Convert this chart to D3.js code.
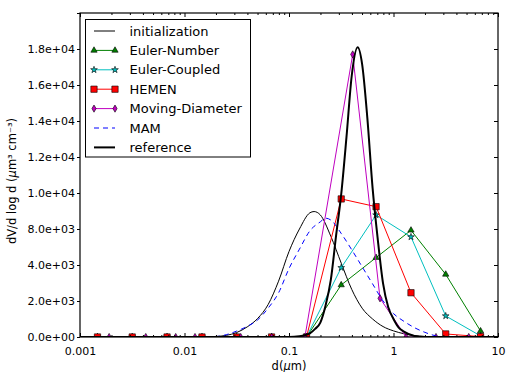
<!DOCTYPE html>
<html><head><meta charset="utf-8">
<script src="https://cdn.jsdelivr.net/npm/d3@7"></script>
<style>body{margin:0;background:#fff}svg{display:block}text{font-family:"DejaVu Sans",sans-serif}</style>
</head><body><svg id="c" width="507" height="372"></svg>
<script>
// ---- data ----
const gridD = [0.00147,0.00316,0.00681,0.0147,0.0316,0.0681,0.147,0.316,0.681,1.47,3.16,6.81];
const eulerNumberV = [0,0,0,0,0,0,0,2890,4410,5930,3480,330];
const eulerCoupledV = [0,0,0,0,0,0,0,3850,6780,5560,1170,60];
const hemenV = [0,0,0,0,0,0,0,7670,7240,2460,170,20];
const movingD = [0.0019,0.00426,0.00824,0.0126,0.0345,0.0683,0.142,0.407,0.743,1.32,2.55,5.25];
const movingV = [0,0,0,0,0,0,0,15700,2150,0,0,0];
const initD = [0.001,0.01,0.01585,0.01995,0.02512,0.03162,0.03981,0.05012,0.0631,0.07943,0.1,0.1259,0.1585,0.1738,0.1995,0.2512,0.3162,0.3981,0.5012,0.631,0.7943,1,1.259,1.585,1.995,2.512,3.162,10];
const initV = [0,0,8,30,90,250,560,1030,1800,3100,4750,6000,6900,6970,6780,5600,4100,2650,1600,1000,580,340,180,80,30,5,0,0];
const mamD = [0.001,0.01585,0.01995,0.02512,0.03162,0.03981,0.05012,0.0631,0.07943,0.1,0.1259,0.1585,0.1995,0.2239,0.2512,0.3162,0.3981,0.5012,0.631,0.7943,1,1.259,1.585,1.995,2.512,3.162,10];
const mamV = [0,0,20,130,330,590,950,1600,2450,3800,4880,5900,6400,6600,6500,5750,4850,3900,2950,2000,1300,870,520,260,70,0,0];
const refD = [0.001,0.1,0.1259,0.1585,0.1778,0.1995,0.2239,0.2512,0.2818,0.3162,0.3548,0.3981,0.4539,0.5012,0.5623,0.631,0.7079,0.7943,0.8913,1,1.122,1.259,1.585,1.995,10];
const refV = [0,0,40,200,450,800,1750,3170,5600,7950,11100,14500,16100,15150,12150,8270,5400,2980,1650,1000,520,300,60,0,0];
const seriesNames = ["initialization","Euler-Number","Euler-Coupled","HEMEN","Moving-Diameter","MAM","reference"];
const xTicks = [0.001,0.01,0.1,1,10];
const xTickLabels = ["0.001","0.01","0.1","1","10"];
const yTicks = [0,2000,4000,6000,8000,10000,12000,14000,16000,18000];
const yTickLabels = ["0.0e+00","2.0e+03","4.0e+03","8.0e+03","1.0e+04","1.2e+04","1.4e+04","1.6e+04","1.8e+04",""];

// ---- layout ----
const L = 80, R = 498, T = 13, B = 337;
const svg = d3.select("#c");
const x = d3.scaleLog().domain([0.001, 10]).range([L, R]);
const y = d3.scaleLinear().domain([0, 18000]).range([B, T]);

const minor = [];
for (let e = -3; e < 1; e++) for (let m = 2; m <= 9; m++) minor.push(m * Math.pow(10, e));

svg.append("defs").append("clipPath").attr("id", "clip")
  .append("rect").attr("x", L).attr("y", T).attr("width", R - L).attr("height", B - T);

const plot = svg.append("g").attr("clip-path", "url(#clip)");
const line = d3.line().x(d => x(d[0])).y(d => y(d[1])).curve(d3.curveMonotoneX);
const lineStraight = d3.line().x(d => x(d[0])).y(d => y(d[1]));

const zip = (a, b) => a.map((v, i) => [v, b[i]]);

const styles = {
  "initialization": {color: "#000", width: 1},
  "Euler-Number": {color: "#008000", width: 1, marker: "tri", fill: "#008000"},
  "Euler-Coupled": {color: "#00bfbf", width: 1, marker: "star", fill: "#00bfbf"},
  "HEMEN": {color: "#ff0000", width: 1, marker: "square", fill: "#ff0000"},
  "Moving-Diameter": {color: "#bf00bf", width: 1, marker: "diamond", fill: "#bf00bf"},
  "MAM": {color: "#0000ff", width: 1, dash: "5,4"},
  "reference": {color: "#000", width: 2}
};

function markerPath(kind) {
  if (kind === "tri") return d3.symbol(d3.symbolTriangle, 17)();
  if (kind === "star") return d3.symbol(d3.symbolStar, 14)();
  if (kind === "square") return d3.symbol(d3.symbolSquare, 40)();
  if (kind === "diamond") return d3.symbol(d3.symbolDiamond, 15)();
}

function drawSeries(name, pts, smooth) {
  const s = styles[name];
  plot.append("path").datum(pts).attr("d", smooth ? line : lineStraight)
    .attr("fill", "none").attr("stroke", s.color).attr("stroke-width", s.width)
    .attr("stroke-dasharray", s.dash || null).attr("stroke-linejoin", "round");
  if (s.marker) {
    plot.append("g").selectAll("path").data(pts).join("path")
      .attr("d", markerPath(s.marker))
      .attr("transform", d => `translate(${x(d[0])},${y(d[1])})`)
      .attr("fill", s.fill).attr("stroke", "#000").attr("stroke-width", 0.6);
  }
}

drawSeries("initialization", zip(initD, initV), true);
drawSeries("Euler-Number", zip(gridD, eulerNumberV), false);
drawSeries("Euler-Coupled", zip(gridD, eulerCoupledV), false);
drawSeries("HEMEN", zip(gridD, hemenV), false);
drawSeries("Moving-Diameter", zip(movingD, movingV), false);
drawSeries("MAM", zip(mamD, mamV), true);
drawSeries("reference", zip(refD, refV), true);

// ---- axes ----
const fs = "11px";
const gB = svg.append("g").attr("transform", `translate(0,${B})`)
  .call(d3.axisBottom(x).tickValues(xTicks).tickSizeInner(-4).tickSizeOuter(0).tickPadding(10)
    .tickFormat((d, i) => xTickLabels[i]));
const gBm = svg.append("g").attr("transform", `translate(0,${B})`)
  .call(d3.axisBottom(x).tickValues(minor).tickSizeInner(-2).tickSizeOuter(0).tickFormat(""));
const gT = svg.append("g").attr("transform", `translate(0,${T})`)
  .call(d3.axisTop(x).tickValues(xTicks).tickSizeInner(-4).tickSizeOuter(0).tickFormat(""));
const gTm = svg.append("g").attr("transform", `translate(0,${T})`)
  .call(d3.axisTop(x).tickValues(minor).tickSizeInner(-2).tickSizeOuter(0).tickFormat(""));
const gL = svg.append("g").attr("transform", `translate(${L},0)`)
  .call(d3.axisLeft(y).tickValues(yTicks).tickSizeInner(3).tickSizeOuter(0).tickPadding(2)
    .tickFormat((d, i) => yTickLabels[i]));
const gR = svg.append("g").attr("transform", `translate(${R},0)`)
  .call(d3.axisRight(y).tickValues(yTicks).tickSizeInner(-4).tickSizeOuter(0).tickFormat(""));
[gB, gBm, gT, gTm, gL, gR].forEach(g => {
  g.select(".domain").remove();
  g.selectAll("text").attr("font-size", fs).attr("fill", "#000").attr("font-family", "DejaVu Sans");
  g.selectAll("line").attr("stroke", "#000").attr("stroke-width", 1);
});

svg.append("rect").attr("x", L).attr("y", T).attr("width", R - L).attr("height", B - T)
  .attr("fill", "none").attr("stroke", "#000").attr("stroke-width", 1.2);

// axis labels
const xl = svg.append("text").attr("x", (L + R) / 2).attr("y", 370).attr("text-anchor", "middle")
  .attr("font-size", "11.5px");
xl.append("tspan").text("d(");
xl.append("tspan").attr("font-style", "italic").text("μ");
xl.append("tspan").text("m)");

const yl = svg.append("text").attr("transform", `translate(16,${(T + B) / 2 + 6}) rotate(-90)`)
  .attr("text-anchor", "middle").attr("font-size", "11.5px");
yl.append("tspan").text("dV/d log d (");
yl.append("tspan").attr("font-style", "italic").text("μ");
yl.append("tspan").text("m³ cm⁻³)");

// ---- legend ----
const lg = svg.append("g");
lg.append("rect").attr("x", 85.5).attr("y", 19.5).attr("width", 165).attr("height", 137.5)
  .attr("fill", "#fff").attr("stroke", "#000").attr("stroke-width", 1);
seriesNames.forEach((name, i) => {
  const s = styles[name];
  const cy = 31 + i * 19.4;
  lg.append("line").attr("x1", 94).attr("x2", 115).attr("y1", cy).attr("y2", cy)
    .attr("stroke", s.color).attr("stroke-width", s.width).attr("stroke-dasharray", s.dash || null);
  if (s.marker) {
    [94, 115].forEach(px => lg.append("path").attr("d", markerPath(s.marker))
      .attr("transform", `translate(${px},${cy})`).attr("fill", s.fill)
      .attr("stroke", "#000").attr("stroke-width", 0.6));
  }
  lg.append("text").attr("x", 129.5).attr("y", cy).attr("dy", "0.35em")
    .attr("font-size", "13px").text(name);
});
</script></body></html>
